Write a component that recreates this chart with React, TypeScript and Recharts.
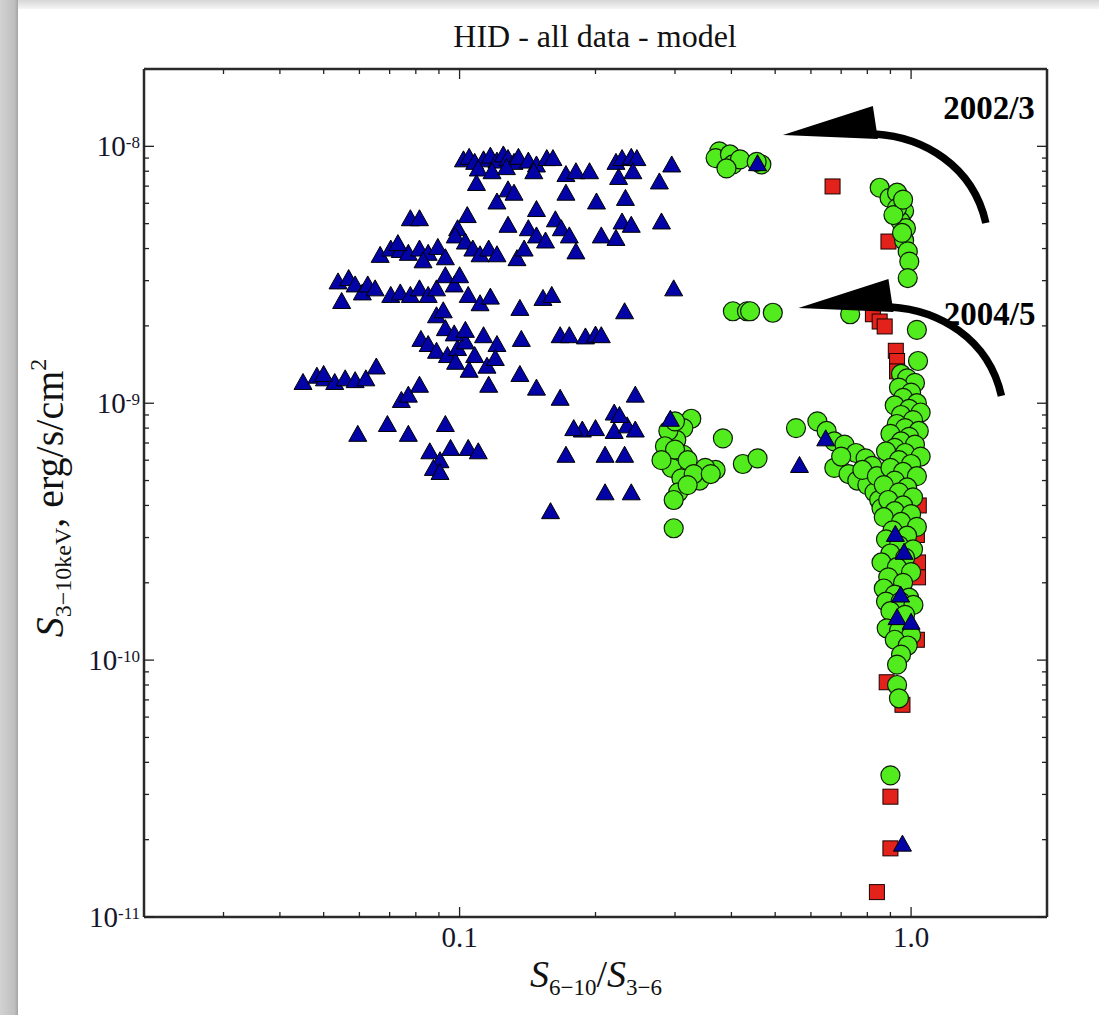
import { ScatterChart, Scatter, XAxis, YAxis, ReferenceDot } from 'recharts';

const FONT = "'Liberation Serif', 'Times New Roman', serif";
const PLOT = { left: 144, right: 1047, top: 69, bottom: 917 };

const xDomain: [number, number] = [0.02, 2];
const yDomain: [number, number] = [1e-11, 2e-8];

const xMajorTicks = [0.1, 1.0];
const xTickLabels = ['0.1', '1.0'];
const xMinorTicks = [0.03, 0.04, 0.05, 0.06, 0.07, 0.08, 0.09, 0.2, 0.3, 0.4, 0.5, 0.6, 0.7, 0.8, 0.9];

const yMajorTicks = [1e-11, 1e-10, 1e-9, 1e-8];
const yTickExponents = ['-11', '-10', '-9', '-8'];
const yMinorTicks = [
  2e-11, 3e-11, 4e-11, 5e-11, 6e-11, 7e-11, 8e-11, 9e-11,
  2e-10, 3e-10, 4e-10, 5e-10, 6e-10, 7e-10, 8e-10, 9e-10,
  2e-9, 3e-9, 4e-9, 5e-9, 6e-9, 7e-9, 8e-9, 9e-9,
];

// blue triangles
const blueTop: [number, number][] = [
  [0.102, 8.9e-9], [0.105, 9.1e-9], [0.108, 8.7e-9], [0.113, 8.9e-9], [0.117, 9.2e-9], [0.121, 8.8e-9],
  [0.125, 9.3e-9], [0.128, 9.0e-9], [0.132, 8.7e-9], [0.135, 9.1e-9], [0.142, 8.8e-9], [0.148, 8.5e-9],
  [0.156, 9.0e-9], [0.161, 9.0e-9], [0.110, 8.2e-9], [0.118, 8.0e-9], [0.127, 8.3e-9], [0.146, 8.0e-9],
  [0.172, 7.8e-9], [0.181, 8.0e-9], [0.194, 8.0e-9], [0.222, 8.7e-9], [0.229, 9.0e-9], [0.240, 9.1e-9],
  [0.247, 9.0e-9], [0.225, 7.6e-9], [0.242, 8.0e-9], [0.277, 7.3e-9], [0.295, 8.5e-9],
];
const blueUpperMid: [number, number][] = [
  [0.109, 7.2e-9], [0.121, 6.1e-9], [0.128, 6.8e-9], [0.132, 6.6e-9], [0.148, 5.7e-9], [0.0778, 5.25e-9],
  [0.0815, 5.25e-9], [0.104, 5.4e-9], [0.099, 4.8e-9], [0.128, 4.95e-9], [0.142, 4.8e-9], [0.148, 4.5e-9],
  [0.155, 4.3e-9], [0.172, 6.6e-9], [0.201, 6.1e-9], [0.233, 6.3e-9], [0.163, 5.2e-9], [0.168, 4.8e-9],
  [0.229, 5.1e-9], [0.240, 4.95e-9], [0.206, 4.5e-9], [0.222, 4.4e-9], [0.175, 4.5e-9], [0.181, 3.9e-9],
  [0.280, 5.1e-9],
  [0.0667, 3.78e-9], [0.0704, 4.0e-9], [0.0739, 3.95e-9], [0.077, 3.85e-9], [0.0815, 4.0e-9], [0.0852, 3.85e-9],
  [0.0895, 4.06e-9], [0.0978, 4.5e-9], [0.103, 4.26e-9], [0.107, 4.0e-9], [0.111, 3.8e-9], [0.116, 4.0e-9],
  [0.121, 3.8e-9], [0.134, 3.67e-9], [0.139, 4.0e-9], [0.073, 4.2e-9], [0.083, 3.6e-9], [0.093, 3.7e-9],
];
const blueMid: [number, number][] = [
  [0.0538, 2.98e-9], [0.0548, 2.5e-9], [0.0568, 3.07e-9], [0.0587, 2.9e-9], [0.0609, 2.7e-9], [0.0626, 2.9e-9],
  [0.065, 2.8e-9], [0.0704, 2.64e-9], [0.0739, 2.7e-9], [0.0778, 2.64e-9], [0.0815, 2.8e-9], [0.0852, 2.64e-9],
  [0.0889, 2.8e-9], [0.093, 3.15e-9], [0.0973, 2.9e-9], [0.1045, 2.64e-9], [0.100, 3.15e-9], [0.136, 2.35e-9],
  [0.153, 2.57e-9], [0.0889, 2.2e-9], [0.092, 2.3e-9], [0.160, 2.64e-9], [0.232, 2.28e-9], [0.298, 2.8e-9],
  [0.111, 2.45e-9], [0.117, 2.6e-9],
  [0.0821, 1.78e-9], [0.0852, 1.7e-9], [0.0889, 1.6e-9], [0.094, 1.54e-9], [0.099, 1.64e-9], [0.103, 1.74e-9],
  [0.108, 1.54e-9], [0.093, 1.96e-9], [0.0973, 1.87e-9], [0.103, 1.93e-9], [0.113, 1.84e-9], [0.121, 1.7e-9],
  [0.115, 1.4e-9], [0.116, 1.18e-9], [0.136, 1.3e-9], [0.148, 1.15e-9], [0.137, 1.78e-9], [0.167, 1.84e-9],
  [0.175, 1.84e-9], [0.19, 1.82e-9], [0.20, 1.85e-9], [0.206, 1.84e-9], [0.167, 1.05e-9], [0.245, 1.08e-9],
  [0.098, 1.45e-9], [0.105, 1.35e-9], [0.120, 1.5e-9],
];
const blueLow: [number, number][] = [
  [0.045, 1.21e-9], [0.0483, 1.28e-9], [0.0502, 1.25e-9], [0.0529, 1.21e-9], [0.0558, 1.25e-9], [0.0587, 1.23e-9],
  [0.062, 1.25e-9], [0.0654, 1.39e-9], [0.0743, 1.03e-9], [0.077, 1.08e-9], [0.0815, 1.18e-9], [0.050, 1.3e-9],
  [0.0595, 7.6e-10], [0.0692, 8.3e-10], [0.077, 7.6e-10], [0.093, 8.3e-10], [0.1045, 6.7e-10], [0.110, 6.5e-10],
  [0.0859, 6.5e-10], [0.0905, 6.0e-10], [0.0875, 5.6e-10], [0.0905, 5.4e-10], [0.0955, 6.7e-10], [0.187, 7.9e-10],
  [0.20, 8.0e-10], [0.22, 7.8e-10], [0.235, 8.2e-10], [0.245, 7.9e-10], [0.293, 8.7e-10], [0.172, 6.3e-10],
  [0.21, 6.3e-10], [0.232, 6.3e-10], [0.21, 4.5e-10], [0.24, 4.5e-10], [0.159, 3.8e-10], [0.179, 8.0e-10],
  [0.22, 9.2e-10], [0.226, 9.0e-10],
];
const blueRight: [number, number][] = [
  [0.457, 8.6e-9], [0.566, 5.75e-10], [0.647, 7.3e-10], [0.923, 3.1e-10], [0.965, 2.64e-10], [0.948, 1.8e-10],
  [0.931, 1.47e-10], [1.0, 1.41e-10], [0.957, 1.93e-11],
];

// green circles
const greenUpper: [number, number][] = [
  [0.376, 9.56e-9], [0.369, 9.0e-9], [0.397, 9.3e-9], [0.403, 8.5e-9], [0.418, 8.9e-9], [0.39, 8.2e-9],
  [0.466, 8.5e-9], [0.455, 8.7e-9],
  [0.852, 6.9e-9], [0.896, 6.3e-9], [0.931, 6.6e-9], [0.948, 5.9e-9], [0.965, 5.6e-9], [0.948, 5.1e-9],
  [0.974, 4.8e-9], [0.965, 4.3e-9], [0.983, 3.9e-9], [0.991, 3.56e-9], [0.983, 3.07e-9], [0.931, 5.75e-9],
  [0.914, 5.4e-9], [0.96, 6.2e-9], [0.955, 4.6e-9],
  [0.403, 2.28e-9], [0.433, 2.28e-9], [0.44, 2.28e-9], [0.494, 2.25e-9], [0.733, 2.22e-9], [1.03, 1.93e-9],
  [1.036, 1.46e-9],
];
const greenLeftCluster: [number, number][] = [
  [0.326, 8.7e-10], [0.313, 8.0e-10], [0.302, 7.2e-10], [0.313, 6.3e-10], [0.295, 5.6e-10], [0.31, 5.1e-10],
  [0.383, 7.3e-10], [0.369, 5.5e-10], [0.34, 5.0e-10], [0.35, 5.6e-10], [0.424, 5.8e-10], [0.457, 6.1e-10],
  [0.298, 3.26e-10], [0.29, 7.8e-10], [0.285, 6.8e-10], [0.30, 6.6e-10], [0.32, 6.0e-10], [0.305, 4.5e-10],
  [0.298, 4.2e-10], [0.33, 5.3e-10], [0.36, 5.3e-10], [0.28, 6.0e-10], [0.32, 4.8e-10], [0.30, 8.5e-10],
];
const greenBranch: [number, number][] = [
  [0.556, 8.0e-10], [0.62, 8.5e-10], [0.65, 7.8e-10], [0.676, 7.1e-10], [0.712, 6.9e-10], [0.755, 6.4e-10],
  [0.793, 6.1e-10], [0.82, 5.7e-10], [0.676, 5.6e-10], [0.727, 5.3e-10], [0.76, 5.0e-10], [0.80, 4.8e-10],
  [0.83, 4.5e-10], [0.85, 4.2e-10], [0.78, 5.5e-10], [0.84, 5.2e-10], [0.86, 3.9e-10], [0.70, 6.2e-10],
];
const greenColumn: [number, number][] = [
  [0.95, 1.3e-9], [0.98, 1.25e-9], [1.02, 1.2e-9], [0.94, 1.15e-9], [1.0, 1.1e-9], [0.96, 1.05e-9],
  [1.03, 1.0e-9], [0.92, 9.8e-10], [0.99, 9.5e-10], [1.05, 9.2e-10], [0.95, 9.0e-10], [1.01, 8.6e-10],
  [0.93, 8.3e-10], [0.97, 8.0e-10], [1.04, 7.8e-10], [0.90, 7.6e-10], [0.99, 7.4e-10], [0.95, 7.1e-10],
  [1.02, 6.9e-10], [0.92, 6.7e-10], [0.88, 6.5e-10], [0.97, 6.4e-10], [1.05, 6.2e-10], [0.94, 6.0e-10],
  [1.0, 5.8e-10], [0.90, 5.6e-10], [0.96, 5.4e-10], [1.03, 5.2e-10], [0.92, 5.0e-10], [0.87, 4.8e-10],
  [0.98, 4.7e-10], [0.94, 4.5e-10], [1.01, 4.3e-10], [0.89, 4.2e-10], [0.96, 4.0e-10], [0.92, 3.8e-10],
  [1.0, 3.7e-10], [0.87, 3.6e-10], [0.95, 3.45e-10], [1.03, 3.3e-10], [0.91, 3.2e-10], [0.98, 3.05e-10],
  [0.88, 2.95e-10], [0.94, 2.8e-10], [1.01, 2.7e-10], [0.90, 2.6e-10], [0.97, 2.5e-10], [0.86, 2.4e-10],
  [0.93, 2.3e-10], [1.0, 2.2e-10], [0.89, 2.1e-10], [0.96, 2.0e-10], [0.87, 1.9e-10], [0.92, 1.8e-10],
  [0.99, 1.75e-10], [0.88, 1.69e-10], [0.948, 1.69e-10], [1.012, 1.64e-10], [0.90, 1.55e-10], [0.97, 1.5e-10],
  [0.883, 1.33e-10], [0.94, 1.3e-10], [1.0, 1.25e-10], [0.92, 1.2e-10], [0.983, 1.14e-10], [0.95, 1.05e-10],
  [0.931, 9.6e-11], [0.931, 8.0e-11], [0.94, 7.1e-11], [0.90, 3.56e-11],
];

// red squares
const redSquares: [number, number][] = [
  [0.67, 6.98e-9], [0.891, 4.26e-9], [0.823, 2.22e-9], [0.852, 2.08e-9], [0.874, 1.99e-9], [0.925, 1.6e-9],
  [0.931, 1.46e-9], [0.931, 1.33e-9], [1.03, 3.07e-10], [1.036, 2.4e-10], [1.036, 2.1e-10], [1.03, 1.2e-10],
  [0.883, 8.2e-11], [0.957, 6.7e-11], [0.90, 2.94e-11], [0.90, 1.85e-11], [0.84, 1.25e-11], [1.04, 4.0e-10],
  [0.95, 9.5e-10], [1.0, 6.0e-10],
];

// arrow tips in data coordinates
const arrows = [
  { x: 0.52, y: 1.107e-8, text: '2002/3', tx: 252, ty: -16 },
  { x: 0.563, y: 2.35e-9, text: '2004/5', tx: 237, ty: 17 },
];

const toPoints = (rows: [number, number][]) => rows.map(([x, y]) => ({ x, y }));

const xTicks = [...xMinorTicks, ...xMajorTicks].sort((a, b) => a - b);
const yTicks = [...yMinorTicks, ...yMajorTicks].sort((a, b) => a - b);

const majorIndex = (list: number[], v: number) => list.findIndex((m) => Math.abs(v / m - 1) < 1e-6);

const TICK = '#222';

function LeftTick(props: any) {
  const { y, payload } = props;
  const i = majorIndex(yMajorTicks, payload.value);
  const len = i >= 0 ? 10 : 5;
  return (
    <g>
      <line x1={PLOT.left} x2={PLOT.left + len} y1={y} y2={y} stroke={TICK} strokeWidth={1.3} />
      {i >= 0 && (
        <text x={PLOT.left - 4} y={y + 10} textAnchor="end" fontFamily={FONT} fontSize={29} fill="#15152a">
          10<tspan fontSize={17} dy={-8}>{yTickExponents[i]}</tspan>
        </text>
      )}
    </g>
  );
}

function RightTick(props: any) {
  const { y, payload } = props;
  const len = majorIndex(yMajorTicks, payload.value) >= 0 ? 10 : 5;
  return <line x1={PLOT.right - len} x2={PLOT.right} y1={y} y2={y} stroke={TICK} strokeWidth={1.3} />;
}

function BottomTick(props: any) {
  const { x, payload } = props;
  const i = majorIndex(xMajorTicks, payload.value);
  const len = i >= 0 ? 10 : 5;
  return (
    <g>
      <line x1={x} x2={x} y1={PLOT.bottom} y2={PLOT.bottom - len} stroke={TICK} strokeWidth={1.3} />
      {i >= 0 && (
        <text x={x} y={947} textAnchor="middle" fontFamily={FONT} fontSize={29} fill="#15152a">
          {xTickLabels[i]}
        </text>
      )}
    </g>
  );
}

function TopTick(props: any) {
  const { x, payload } = props;
  const len = majorIndex(xMajorTicks, payload.value) >= 0 ? 10 : 5;
  return <line x1={x} x2={x} y1={PLOT.top} y2={PLOT.top + len} stroke={TICK} strokeWidth={1.3} />;
}

const Triangle = (props: any) => {
  const { cx, cy } = props;
  if (cx == null || cy == null) return <g />;
  return (
    <path
      d={`M${cx},${cy - 8.5}L${cx + 9},${cy + 7.5}L${cx - 9},${cy + 7.5}Z`}
      fill="#0202a6"
      stroke="#000"
      strokeWidth={1}
    />
  );
};

const Circle = (props: any) => {
  const { cx, cy } = props;
  if (cx == null || cy == null) return <g />;
  return <circle cx={cx} cy={cy} r={9.5} fill="#52ec1e" stroke="#0c1a06" strokeWidth={1.2} />;
};

const Square = (props: any) => {
  const { cx, cy } = props;
  if (cx == null || cy == null) return <g />;
  return <rect x={cx - 7.5} y={cy - 7.5} width={15} height={15} fill="#e3231b" stroke="#1a0000" strokeWidth={1} />;
};

function Arrow(props: any) {
  const { cx, cy, text, tx, ty } = props;
  return (
    <g transform={`translate(${cx},${cy})`}>
      <path d="M92,-1 C140,2 190,30 203,88" fill="none" stroke="#000" strokeWidth={7.5} />
      <path d="M0,0 L90,-29 L95,4 Z" fill="#000" />
      <text x={tx} y={ty} textAnchor="end" fontFamily={FONT} fontWeight="bold" fontSize={33} fill="#000">
        {text}
      </text>
    </g>
  );
}

export default function App() {
  return (
    <div style={{ position: 'absolute', left: 0, top: 0, width: 1099, height: 1015, background: '#fff', overflow: 'hidden' }}>
      <div style={{ position: 'absolute', left: 0, top: 0, width: 1099, height: 9, background: 'linear-gradient(#d6d6d6, #f6f6f6)' }} />
      <div
        style={{
          position: 'absolute',
          left: 0,
          top: 0,
          width: 18,
          height: 1015,
          background: 'linear-gradient(to right, #d2d2d2, #bfbfbf 80%, #a4a4a4)',
        }}
      />
      <div style={{ position: 'absolute', left: 0, top: 0 }}>
        <ScatterChart width={1099} height={1015} margin={{ top: 39, right: 0, bottom: 0, left: 0 }}>
          <XAxis
            xAxisId="bottom"
            dataKey="x"
            type="number"
            scale="log"
            domain={xDomain}
            allowDataOverflow
            ticks={xTicks}
            interval={0}
            height={98}
            tickLine={false}
            tick={<BottomTick />}
            axisLine={{ stroke: '#2a2a2a', strokeWidth: 2.5 }}
          />
          <XAxis
            xAxisId="top"
            orientation="top"
            dataKey="x"
            type="number"
            scale="log"
            domain={xDomain}
            allowDataOverflow
            ticks={xTicks}
            interval={0}
            height={30}
            tickLine={false}
            tick={<TopTick />}
            axisLine={{ stroke: '#2a2a2a', strokeWidth: 2.5 }}
          />
          <YAxis
            yAxisId="left"
            dataKey="y"
            type="number"
            scale="log"
            domain={yDomain}
            allowDataOverflow
            ticks={yTicks}
            interval={0}
            width={144}
            tickLine={false}
            tick={<LeftTick />}
            axisLine={{ stroke: '#2a2a2a', strokeWidth: 2.5 }}
          />
          <YAxis
            yAxisId="right"
            orientation="right"
            dataKey="y"
            type="number"
            scale="log"
            domain={yDomain}
            allowDataOverflow
            ticks={yTicks}
            interval={0}
            width={52}
            tickLine={false}
            tick={<RightTick />}
            axisLine={{ stroke: '#2a2a2a', strokeWidth: 2.5 }}
          />
          <Scatter
            name="red"
            data={toPoints(redSquares)}
            xAxisId="bottom"
            yAxisId="left"
            shape={Square}
            isAnimationActive={false}
          />
          <Scatter
            name="green"
            data={toPoints([...greenUpper, ...greenLeftCluster, ...greenBranch, ...greenColumn])}
            xAxisId="bottom"
            yAxisId="left"
            shape={Circle}
            isAnimationActive={false}
          />
          <Scatter
            name="blue"
            data={toPoints([...blueTop, ...blueUpperMid, ...blueMid, ...blueLow, ...blueRight])}
            xAxisId="bottom"
            yAxisId="left"
            shape={Triangle}
            isAnimationActive={false}
          />
          {arrows.map((a) => (
            <ReferenceDot
              key={a.text}
              x={a.x}
              y={a.y}
              xAxisId="bottom"
              yAxisId="left"
              ifOverflow="visible"
              shape={(p: any) => <Arrow {...p} text={a.text} tx={a.tx} ty={a.ty} />}
            />
          ))}
        </ScatterChart>
      </div>
      <svg width={1099} height={1015} style={{ position: 'absolute', left: 0, top: 0, pointerEvents: 'none' }}>
        <text x={595} y={47} textAnchor="middle" fontFamily={FONT} fontSize={32} fill="#111">
          HID - all data - model
        </text>
        <text x={596} y={987} textAnchor="middle" fontFamily={FONT} fontSize={38} fill="#111">
          <tspan fontStyle="italic">S</tspan>
          <tspan fontSize={23} dy={8}>6−10</tspan>
          <tspan dy={-8}>/</tspan>
          <tspan fontStyle="italic">S</tspan>
          <tspan fontSize={23} dy={8}>3−6</tspan>
        </text>
        <text transform="translate(63,498) rotate(-90)" textAnchor="middle" fontFamily={FONT} fontSize={40} fill="#111">
          <tspan fontStyle="italic">S</tspan>
          <tspan fontSize={24} dy={8}>3−10keV</tspan>
          <tspan dy={-8}>, erg/s/cm</tspan>
          <tspan fontSize={24} dy={-17}>2</tspan>
        </text>
      </svg>
    </div>
  );
}
